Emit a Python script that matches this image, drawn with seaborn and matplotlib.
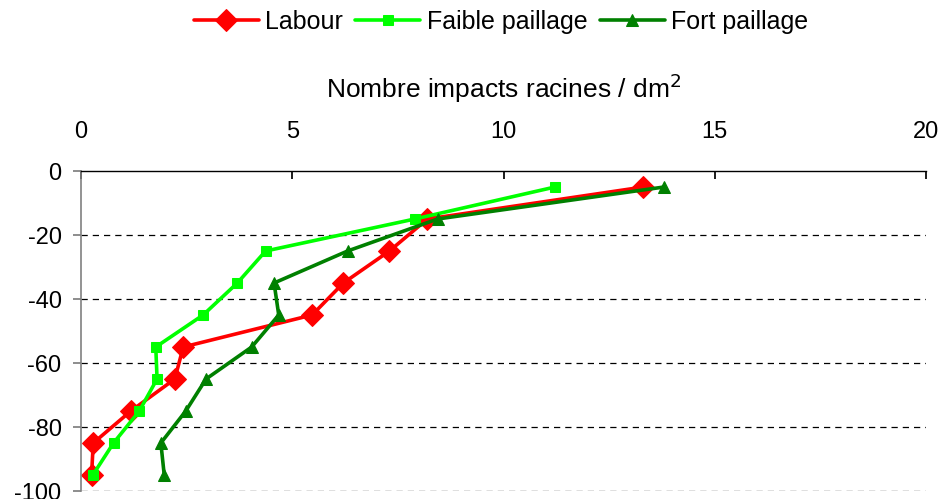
import matplotlib
matplotlib.use("Agg")
import matplotlib.pyplot as plt
import seaborn as sns
import pandas as pd

sns.set_theme(style="white")
plt.rcParams['font.family'] = ['Liberation Sans', 'DejaVu Sans']
plt.rcParams['axes.unicode_minus'] = False
plt.rcParams['text.color'] = 'black'
plt.rcParams['axes.labelcolor'] = 'black'
plt.rcParams['xtick.labelcolor'] = 'black'
plt.rcParams['ytick.labelcolor'] = 'black'

depths = [-5, -15, -25, -35, -45, -55, -65, -75, -85, -95]
labour = [13.31, 8.20, 7.30, 6.21, 5.47, 2.42, 2.22, 1.18, 0.29, 0.25]
faible = [11.22, 7.90, 4.37, 3.70, 2.89, 1.77, 1.80, 1.38, 0.77, 0.28]
fort = [13.80, 8.44, 6.31, 4.57, 4.68, 4.04, 2.96, 2.48, 1.89, 1.97]

series_names = ["Labour", "Faible paillage", "Fort paillage"]
series_vals = [labour, faible, fort]
colors = ["#FF0000", "#00FF00", "#008000"]
markers = ["D", "s", "^"]
msizes = [11, 7, 9]

FS = 17

fig = plt.figure(figsize=(9.42, 4.99), dpi=100)
ax = fig.add_axes([81/942, 8/499, 845/942, 320/499])

for name, vals, c, m, ms in zip(series_names, series_vals, colors, markers, msizes):
    df = pd.DataFrame({"x": vals, "y": depths})
    sns.lineplot(data=df, x="x", y="y", sort=False, ax=ax, color=c, marker=m,
                 markersize=ms, markeredgecolor=c, linewidth=2.6, label=name)

ax.set_xlim(0, 20)
ax.set_ylim(-100, 0)
ax.set_xticks([0, 5, 10, 15, 20])
ax.set_yticks([0, -20, -40, -60, -80, -100])
ax.xaxis.tick_top()
ax.xaxis.set_label_position("top")
ax.set_xlabel("Nombre impacts racines / dm$^2$", fontsize=19, labelpad=17, color="black")
ax.set_ylabel("")
ax.tick_params(axis="x", direction="in", length=6, labelsize=FS, pad=20, color="black")
ax.tick_params(axis="y", direction="out", length=6, labelsize=FS, pad=8, color="#808080", left=True)
for y in [-20, -40, -60, -80, -100]:
    ax.axhline(y, color="black", linestyle=(0, (5, 4)), linewidth=0.9, zorder=0)
for s in ["right", "bottom"]:
    ax.spines[s].set_visible(False)
ax.spines["top"].set_color("black")
ax.spines["top"].set_linewidth(1.0)
ax.spines["left"].set_color("#808080")
ax.spines["left"].set_linewidth(1.2)

ax.legend(loc="center", bbox_to_anchor=(501/942, 1 - 22/499), bbox_transform=fig.transFigure,
          ncol=3, frameon=False, fontsize=18, handlelength=2.6, handletextpad=0.25,
          columnspacing=0.5, borderpad=0, labelcolor="black")

fig.savefig("out.png", dpi=100)
